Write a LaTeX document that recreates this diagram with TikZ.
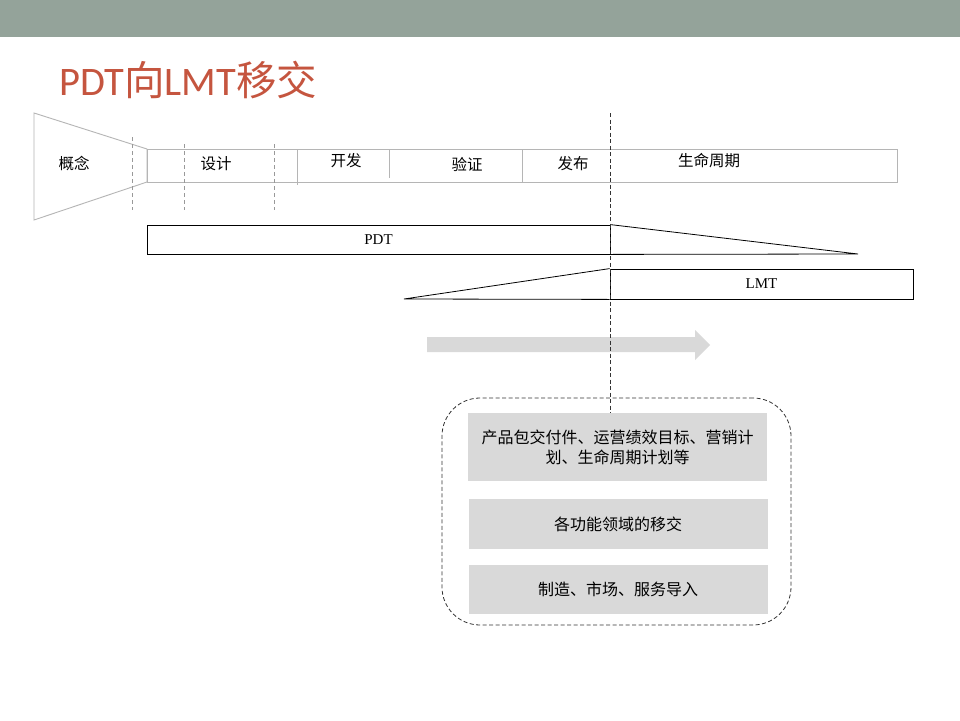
\documentclass[tikz,border=0pt]{standalone}
\usepackage{fontspec}
\setmainfont{Carlito}
\newfontfamily\cjk{Noto Sans CJK SC}
\newfontfamily\serif{Liberation Serif}
\usetikzlibrary{calc}
\definecolor{topbar}{HTML}{94A39A}
\definecolor{titlered}{HTML}{C5553F}
\definecolor{barline}{HTML}{B5B5B5}
\definecolor{boxgray}{HTML}{D9D9D9}
\begin{document}
\begin{tikzpicture}[x=1pt,y=-1pt,
  phase/.style={font=\cjk\fontsize{15.5}{17}\selectfont, inner sep=0pt},
  stagebox/.style={draw=black, line width=0.8pt, inner sep=0pt, font=\serif\fontsize{15}{17}\selectfont},
  graybox/.style={fill=boxgray, inner sep=0pt, minimum width=299pt, align=center, font=\cjk\fontsize{16}{20}\selectfont},
  grayline/.style={draw=barline, line width=0.9pt},
  graydash/.style={draw=gray!80, line width=0.6pt, dash pattern=on 4pt off 3pt},
  blackdash/.style={draw=black!80, line width=0.8pt, dash pattern=on 4pt off 2.5pt}
]
\useasboundingbox (0,0) rectangle (960,720);
\fill[white] (0,0) rectangle (960,720);
\fill[topbar] (0,0) rectangle (960,37);
\node[anchor=base west, inner sep=0pt, text=titlered, font=\fontsize{40.5}{44}\selectfont] (title) at (59,95) {PDT{\cjk 向}LMT{\cjk 移交}};

% funnel and bar
\draw[grayline] (34,113) -- (147,149) -- (147,182) -- (34,220) -- cycle;
\node[grayline, minimum width=750pt, minimum height=33pt, inner sep=0pt] (bar) at (522,165.5) {};
\draw[grayline] (297,149) -- (297,185);
\draw[grayline] (389,149) -- (389,178);
\draw[grayline] (522,149) -- (522,182);
\draw[graydash] (132,137) -- (132,210);
\draw[graydash] (184,144) -- (184,210);
\draw[graydash] (274,144) -- (274,210);

\node[phase] (gn) at (74,163) {概念};
\node[phase] (sj) at (216,164) {设计};
\node[phase] (kf) at (346,161) {开发};
\node[phase] (yz) at (467,164) {验证};
\node[phase] (fb) at (573,164) {发布};
\node[phase] (sm) at (709,161) {生命周期};

% PDT / LMT
\node[stagebox, minimum width=463pt, minimum height=29pt] (pdt) at (378.5,239.5) {PDT};
\draw[line width=0.8pt] (pdt.north east) -- (858,254) -- (pdt.south east);
\node[stagebox, minimum width=303pt, minimum height=30pt] (lmt) at (761.5,284) {LMT};
\draw[line width=0.8pt] (lmt.north west) -- (404,299) -- (lmt.south west);

% gray arrow
\fill[boxgray] (427,337) -- (695,337) -- (695,330) -- (710,345) -- (695,360) -- (695,352) -- (427,352) -- cycle;

% dashed container
\node[draw=black!80, line width=0.8pt, dash pattern=on 4pt off 2.5pt, rounded corners=38pt, minimum width=349pt, minimum height=227pt, inner sep=0pt] (cont) at (616.5,511.5) {};

\node[graybox, minimum height=68pt] (b1) at (617.5,447) {产品包交付件、运营绩效目标、营销计\\划、生命周期计划等};
\node[graybox, minimum height=50pt] (b2) at (618,524) {各功能领域的移交};
\node[graybox, minimum height=49pt] (b3) at (618,589.5) {制造、市场、服务导入};

\coordinate (vtop) at (610,113);
\draw[blackdash] (vtop) -- (vtop |- b1.north);
\end{tikzpicture}
\end{document}
